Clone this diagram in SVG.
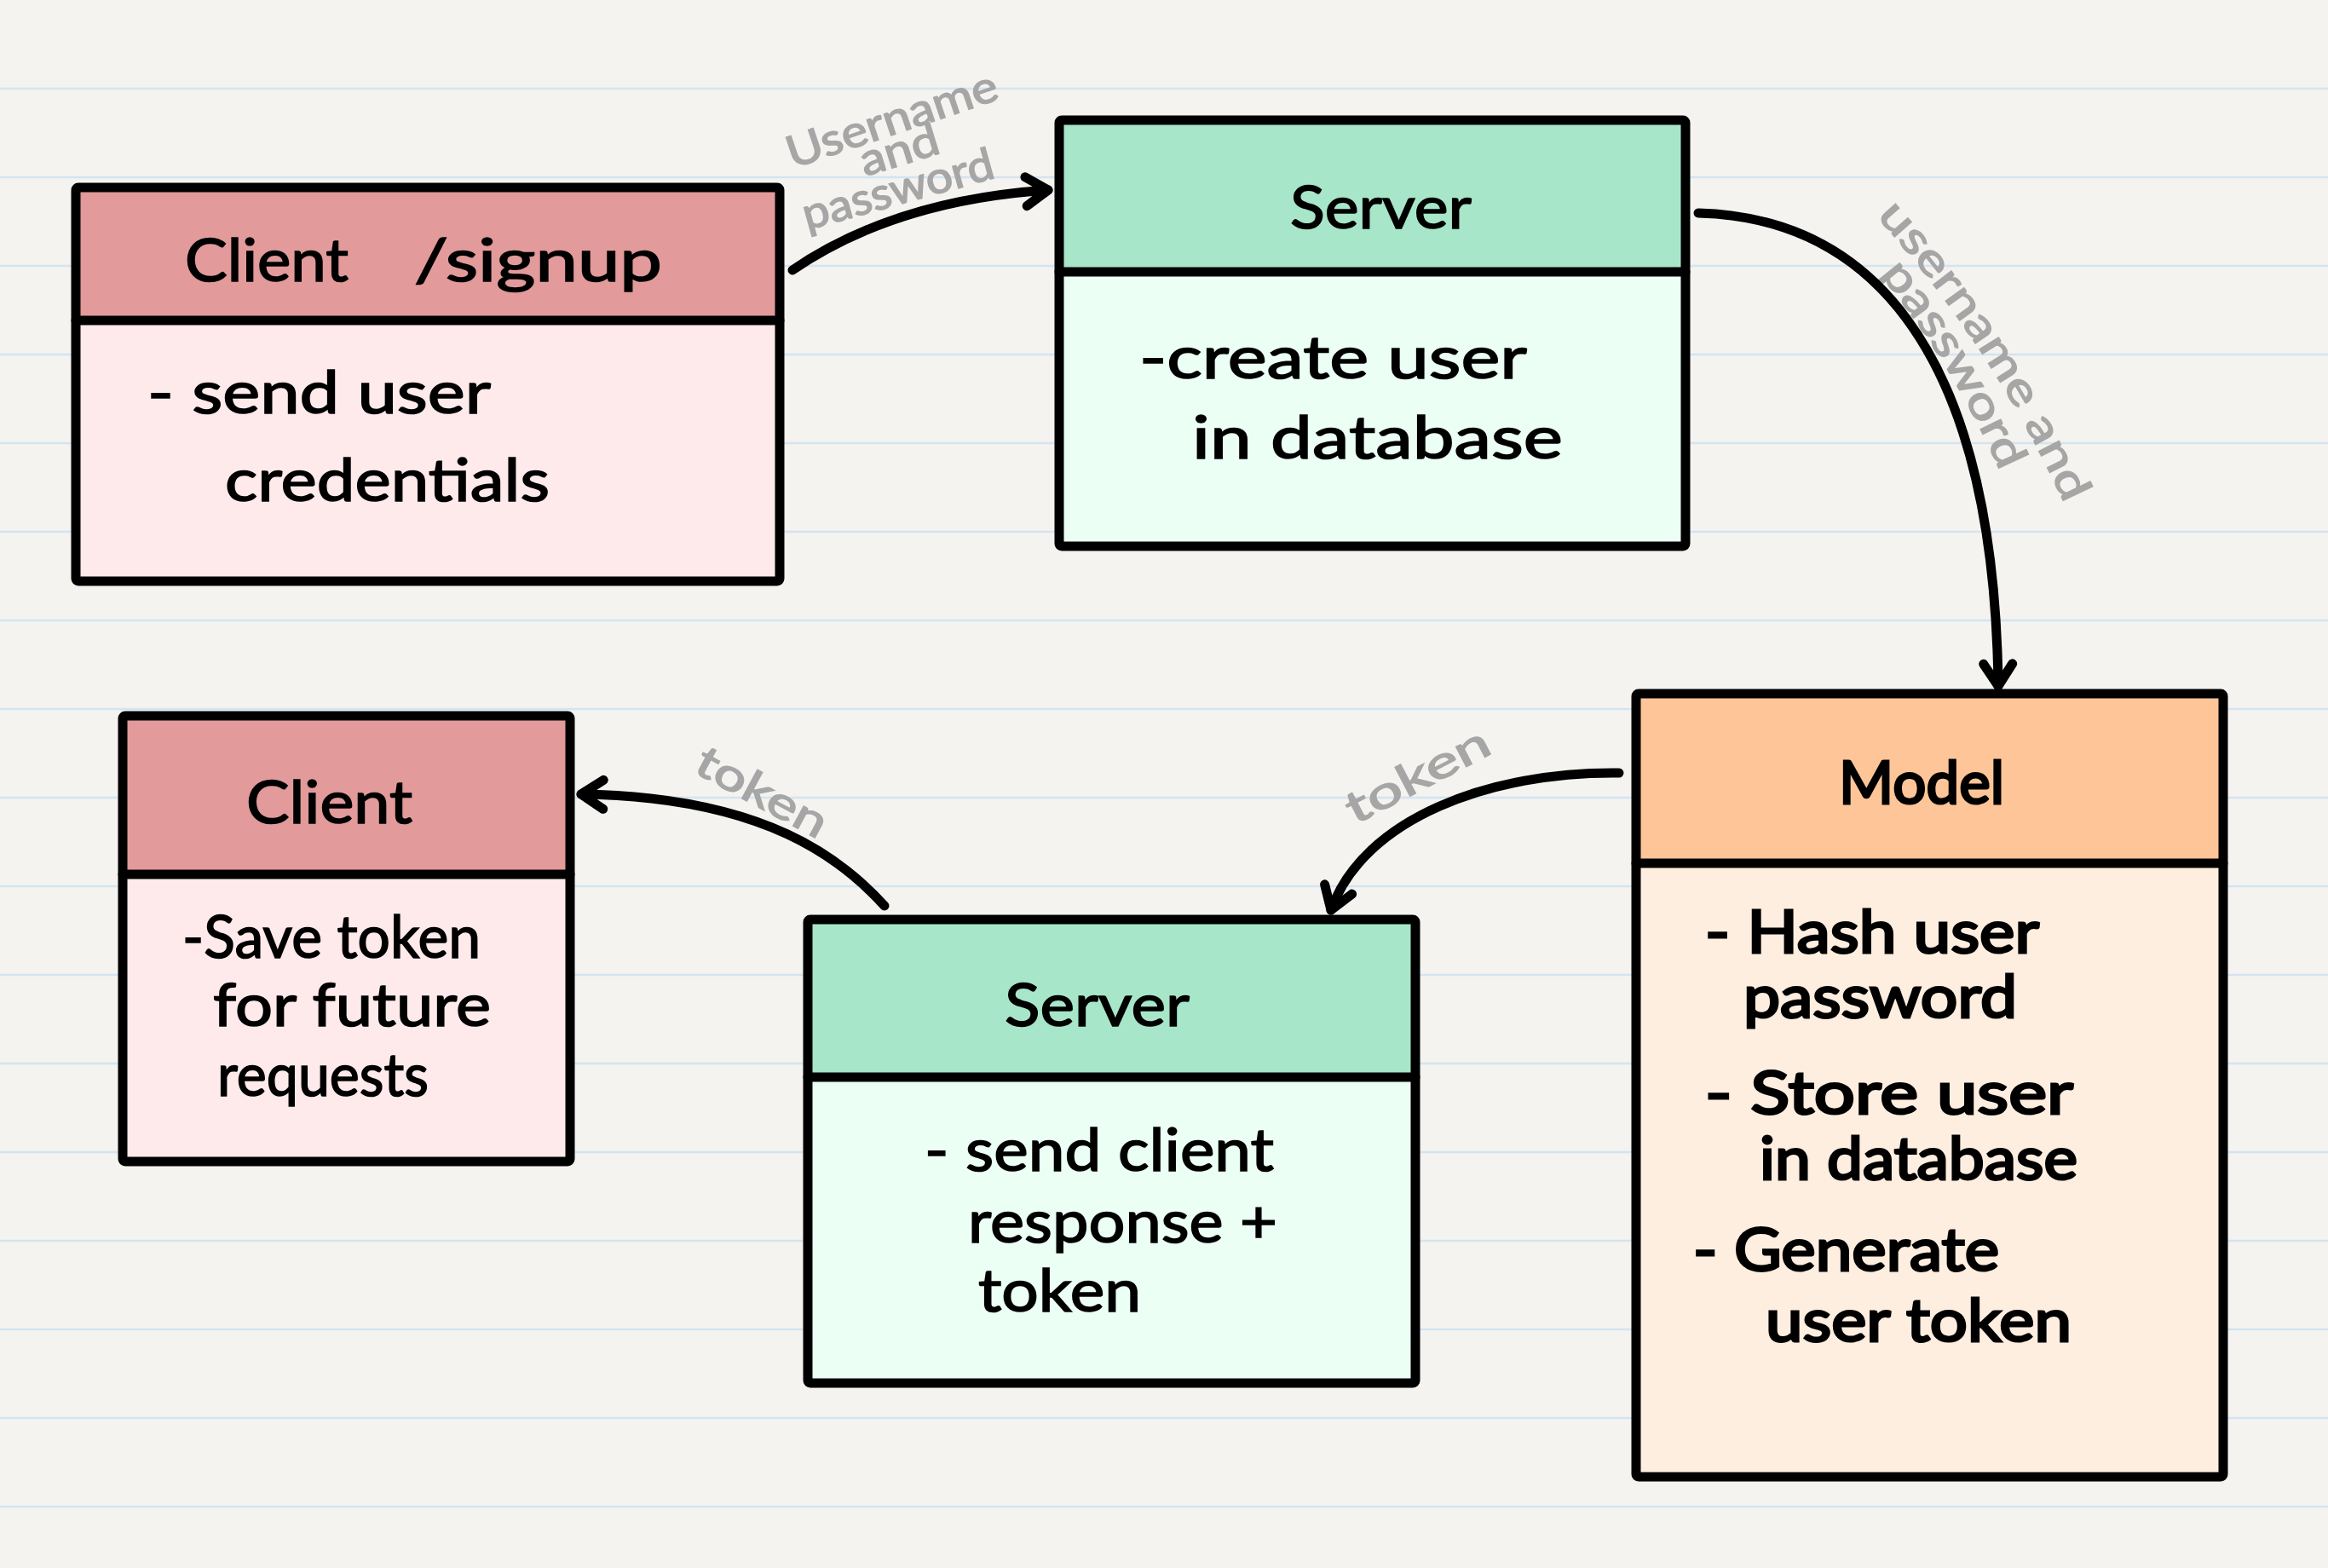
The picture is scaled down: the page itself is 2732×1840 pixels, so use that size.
<svg xmlns="http://www.w3.org/2000/svg" width="2732" height="1840" viewBox="0 0 2732 1840">
<defs>
<style>
.rule{stroke:#d3e4f1;stroke-width:2.5}
.outline{fill:none;stroke:#000;stroke-width:11;stroke-linejoin:round}
.divider{stroke:#000;stroke-width:11;stroke-linecap:round}
.client-h{fill:#e29a9a}.client-b{fill:#feeaea}
.server-h{fill:#a7e6c9}.server-b{fill:#ebfff5}
.model-h{fill:#fec698}.model-b{fill:#feeee0}
.t{font-family:Lato,"Noto Sans","DejaVu Sans",sans-serif;font-size:70px;fill:#000;stroke:#000;stroke-width:1.6}
.tb{stroke-width:3}
.lbl{font-family:Lato,"Noto Sans","DejaVu Sans",sans-serif;font-size:52px;fill:#a6a6a6;stroke:#a6a6a6;stroke-width:1.5}
.conn{fill:none;stroke:#000;stroke-width:11;stroke-linecap:round}
</style>
<marker id="arrow" markerUnits="userSpaceOnUse" markerWidth="60" markerHeight="60" refX="0" refY="0" orient="auto" style="overflow:visible">
<path d="M-26,-17 L0,0 L-26,17" fill="none" stroke="#000" stroke-width="11" stroke-linecap="round" stroke-linejoin="round"/>
</marker>
<path id="lbl2a" d="M2202,254 Q2337,402 2427,600"/>
<path id="lbl2b" d="M2206,322 Q2294,428 2352,564"/>
</defs>
<rect width="2732" height="1840" fill="#f4f3ef"/>
<g id="ruling">
<line class="rule" x1="0" y1="104" x2="2732" y2="104"/>
<line class="rule" x1="0" y1="208" x2="2732" y2="208"/>
<line class="rule" x1="0" y1="312" x2="2732" y2="312"/>
<line class="rule" x1="0" y1="416" x2="2732" y2="416"/>
<line class="rule" x1="0" y1="520" x2="2732" y2="520"/>
<line class="rule" x1="0" y1="624" x2="2732" y2="624"/>
<line class="rule" x1="0" y1="728" x2="2732" y2="728"/>
<line class="rule" x1="0" y1="832" x2="2732" y2="832"/>
<line class="rule" x1="0" y1="936" x2="2732" y2="936"/>
<line class="rule" x1="0" y1="1040" x2="2732" y2="1040"/>
<line class="rule" x1="0" y1="1144" x2="2732" y2="1144"/>
<line class="rule" x1="0" y1="1248" x2="2732" y2="1248"/>
<line class="rule" x1="0" y1="1352" x2="2732" y2="1352"/>
<line class="rule" x1="0" y1="1456" x2="2732" y2="1456"/>
<line class="rule" x1="0" y1="1560" x2="2732" y2="1560"/>
<line class="rule" x1="0" y1="1664" x2="2732" y2="1664"/>
<line class="rule" x1="0" y1="1768" x2="2732" y2="1768"/>
</g>

<g id="node-client-signup">
<rect class="client-h" x="89" y="220" width="826" height="156"/>
<rect class="client-b" x="89" y="376" width="826" height="306"/>
<rect class="outline" x="89" y="220" width="826" height="462" rx="3"/>
<line class="divider" x1="89" y1="376" x2="915" y2="376"/>
<text class="t" y="330"><tspan x="217" textLength="192" lengthAdjust="spacingAndGlyphs">Client</tspan> <tspan x="486" textLength="291" lengthAdjust="spacingAndGlyphs">/signup</tspan></text>
<text class="t" x="173" y="485" textLength="403" lengthAdjust="spacingAndGlyphs">- send user</text>
<text class="t" x="264" y="588" textLength="381" lengthAdjust="spacingAndGlyphs">credentials</text>
</g>

<g id="node-server-create">
<rect class="server-h" x="1243" y="141" width="735" height="178"/>
<rect class="server-b" x="1243" y="319" width="735" height="322"/>
<rect class="outline" x="1243" y="141" width="735" height="500" rx="3"/>
<line class="divider" x1="1243" y1="319" x2="1978" y2="319"/>
<text class="t" x="1514" y="268" textLength="213" lengthAdjust="spacingAndGlyphs">Server</text>
<text class="t" x="1337" y="444" textLength="455" lengthAdjust="spacingAndGlyphs">-create user</text>
<text class="t" x="1399" y="538" textLength="435" lengthAdjust="spacingAndGlyphs">in database</text>
</g>

<g id="node-client-save">
<rect class="client-h" x="144" y="840" width="525" height="186"/>
<rect class="client-b" x="144" y="1026" width="525" height="337"/>
<rect class="outline" x="144" y="840" width="525" height="523" rx="3"/>
<line class="divider" x1="144" y1="1026" x2="669" y2="1026"/>
<text class="t" x="289" y="966" textLength="195" lengthAdjust="spacingAndGlyphs">Client</text>
<text class="t" x="214" y="1124" textLength="350" lengthAdjust="spacingAndGlyphs">-Save token</text>
<text class="t" x="250" y="1204" textLength="326" lengthAdjust="spacingAndGlyphs">for future</text>
<text class="t" x="255" y="1286" textLength="248" lengthAdjust="spacingAndGlyphs">requests</text>
</g>

<g id="node-server-respond">
<rect class="server-h" x="948" y="1079" width="713" height="185"/>
<rect class="server-b" x="948" y="1264" width="713" height="359"/>
<rect class="outline" x="948" y="1079" width="713" height="544" rx="3"/>
<line class="divider" x1="948" y1="1264" x2="1661" y2="1264"/>
<text class="t" x="1179" y="1204" textLength="217" lengthAdjust="spacingAndGlyphs">Server</text>
<text class="t" x="1085" y="1374" textLength="410" lengthAdjust="spacingAndGlyphs">- send client</text>
<text class="t" x="1136" y="1458" textLength="363" lengthAdjust="spacingAndGlyphs">response +</text>
<text class="t" x="1148" y="1539" textLength="191" lengthAdjust="spacingAndGlyphs">token</text>
</g>

<g id="node-model">
<rect class="model-h" x="1920" y="814" width="689" height="199"/>
<rect class="model-b" x="1920" y="1013" width="689" height="720"/>
<rect class="outline" x="1920" y="814" width="689" height="919" rx="3"/>
<line class="divider" x1="1920" y1="1013" x2="2609" y2="1013"/>
<text class="t tb" x="2158" y="943" textLength="194" lengthAdjust="spacingAndGlyphs">Model</text>
<text class="t tb" x="2001" y="1118" textLength="392" lengthAdjust="spacingAndGlyphs">- Hash user</text>
<text class="t tb" x="2046" y="1194" textLength="321" lengthAdjust="spacingAndGlyphs">password</text>
<text class="t tb" x="2001" y="1307" textLength="432" lengthAdjust="spacingAndGlyphs">- Store user</text>
<text class="t tb" x="2065" y="1384" textLength="373" lengthAdjust="spacingAndGlyphs">in database</text>
<text class="t tb" x="1987" y="1491" textLength="359" lengthAdjust="spacingAndGlyphs">- Generate</text>
<text class="t tb" x="2072" y="1574" textLength="359" lengthAdjust="spacingAndGlyphs">user token</text>
</g>

<g id="connectors">
<g id="connector-labels">
<text class="lbl" x="930" y="198" transform="rotate(-18.6 930 198)" textLength="258" lengthAdjust="spacingAndGlyphs">Username</text>
<text class="lbl" x="1015" y="207" transform="rotate(-17 1015 207)" textLength="95" lengthAdjust="spacingAndGlyphs">and</text>
<text class="lbl" x="947" y="270" transform="rotate(-15.5 947 270)" textLength="231" lengthAdjust="spacingAndGlyphs">password</text>
<text class="lbl"><textPath href="#lbl2a" textLength="405" lengthAdjust="spacingAndGlyphs">username and</textPath></text>
<text class="lbl"><textPath href="#lbl2b" textLength="272" lengthAdjust="spacingAndGlyphs">password</textPath></text>
<text class="lbl" x="1590" y="968" transform="rotate(-27.5 1590 968)" textLength="184" lengthAdjust="spacingAndGlyphs">token</text>
<text class="lbl" x="812" y="905" transform="rotate(28.4 812 905)" textLength="168" lengthAdjust="spacingAndGlyphs">token</text>
</g>
<path id="edge-signup-server" class="conn" d="M930,317 Q1050,235 1230,223" marker-end="url(#arrow)"/>
<path id="edge-server-model" class="conn" d="M1993,250 C2180,255 2340,390 2345,805" marker-end="url(#arrow)"/>
<path id="edge-model-server" class="conn" d="M1900,907 C1750,905 1600,960 1562,1068" marker-end="url(#arrow)"/>
<path id="edge-server-client" class="conn" d="M1038,1063 C990,1010 900,935 682,932" marker-end="url(#arrow)"/>
</g>
</svg>
